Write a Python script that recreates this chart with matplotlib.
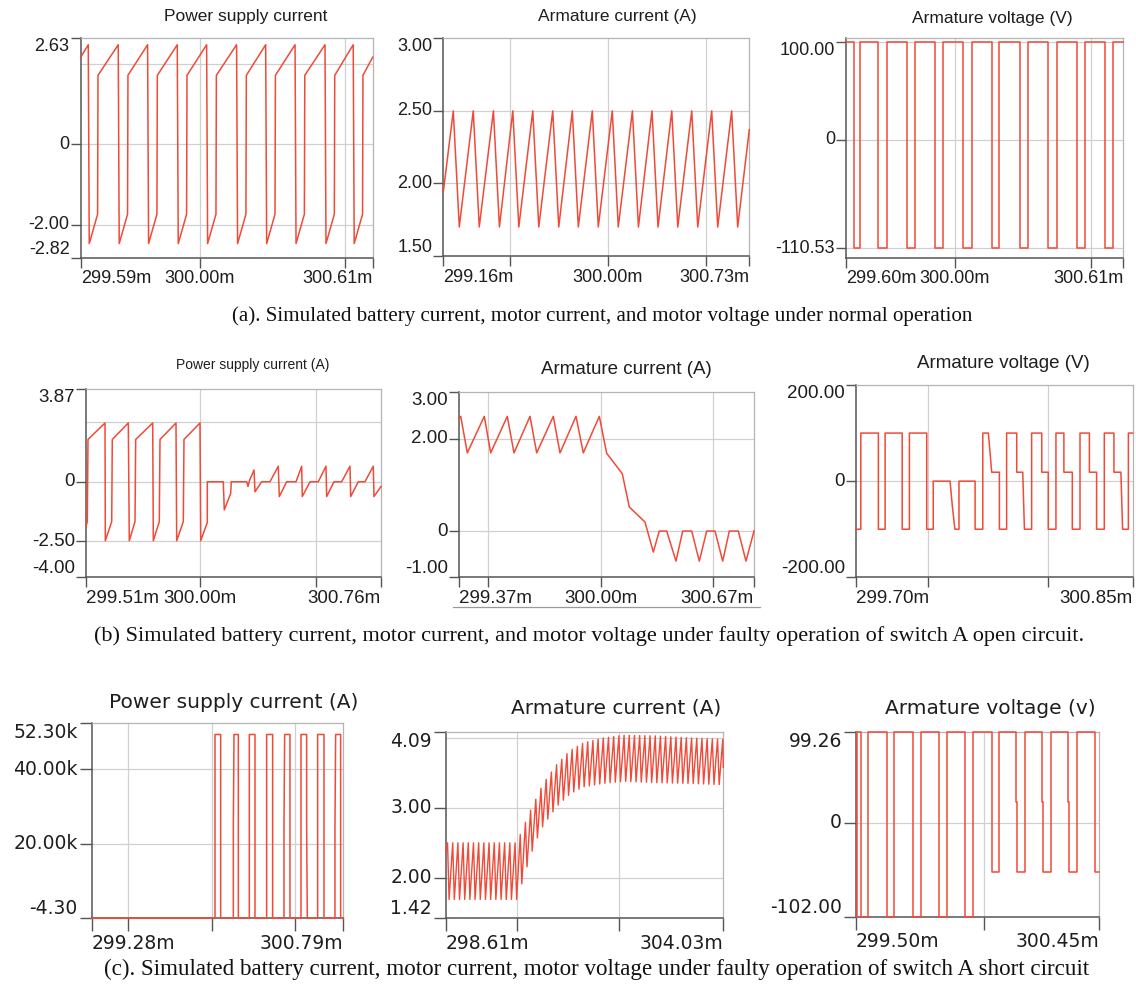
import numpy as np
import matplotlib
matplotlib.use("Agg")
import matplotlib.pyplot as plt
from matplotlib.lines import Line2D

# ---------------- data (time in ms, values in A / V) ----------------
# (a1) power supply current, normal operation
a1_peak_t = [299.616, 299.719, 299.820, 299.922, 300.023, 300.126, 300.226, 300.327, 300.430, 300.527]
a1_cycle_dt = [0.0, 0.0034, 0.0321, 0.0335]
a1_cycle_i = [2.47, -2.47, -1.74, 1.71]
a1_start = (299.59, 2.16)
a1_end = (300.594, 2.16)

# (a2) armature current, normal operation
a2_peak_t = [299.211, 299.313, 299.416, 299.515, 299.617, 299.719, 299.819, 299.921,
             300.023, 300.126, 300.226, 300.327, 300.429, 300.531, 300.633]
a2_cycle_dt = [0.0, 0.0307]
a2_cycle_i = [2.50, 1.70]
a2_start = (299.16, 1.94)
a2_end = (300.723, 2.37)

# (a3) armature voltage, normal operation (step changes)
a3_t = [299.600, 299.629, 299.651, 299.719, 299.749, 299.823, 299.853, 299.927, 299.957,
        300.031, 300.061, 300.135, 300.163, 300.239, 300.269, 300.343, 300.373, 300.447,
        300.477, 300.551, 300.579, 300.618]
a3_v = [100, -110.53, 100, -110.53, 100, -110.53, 100, -110.53, 100, -110.53, 100,
        -110.53, 100, -110.53, 100, -110.53, 100, -110.53, 100, -110.53, 100, 100]

# (b1) power supply current, switch A open circuit
b1_t = [299.510, 299.5156, 299.5186, 299.5917, 299.5930, 299.6205, 299.6230, 299.6918,
        299.6961, 299.7206, 299.7236, 299.7967, 299.7993, 299.8250, 299.8281, 299.8968,
        299.8998, 299.9282, 299.9312, 300.0000, 300.0030, 300.0313, 300.0313, 300.1001,
        300.1044, 300.1319, 300.1345, 300.2007, 300.2063, 300.2127, 300.2321, 300.2364,
        300.2652, 300.3008, 300.3365, 300.3408, 300.3726, 300.4126, 300.4371, 300.4397,
        300.4728, 300.5084, 300.5415, 300.5445, 300.5759, 300.6090, 300.6447, 300.6477,
        300.6804, 300.7091, 300.7448, 300.7478, 300.7779]
b1_i = [-1.875, -1.67, 1.77, 2.46, -2.47, -1.67, 1.77, 2.46, -2.47, -1.67, 1.77, 2.46,
        -2.47, -1.67, 1.77, 2.46, -2.47, -1.67, 1.77, 2.46, -2.47, -1.71, 0, 0, -1.18,
        -0.49, 0, 0, -0.2, 0.05, 0.49, -0.42, 0, 0, 0.65, -0.62, 0, 0, 0.65, -0.62, 0, 0,
        0.65, -0.62, 0, 0, 0.65, -0.62, 0, 0, 0.65, -0.62, -0.2]

# (b2) armature current, switch A open circuit
b2_t = [299.370, 299.3776, 299.4069, 299.4825, 299.5109, 299.5847, 299.6145, 299.6857,
        299.7155, 299.7893, 299.8190, 299.8902, 299.9226, 299.9938, 300.0267, 300.0960,
        300.1272, 300.1970, 300.2339, 300.2605, 300.2934, 300.3348, 300.3646, 300.4046,
        300.4384, 300.4713, 300.5082, 300.5424, 300.5718, 300.6118, 300.6460, 300.6816]
b2_i = [2.43, 2.48, 1.69, 2.48, 1.69, 2.48, 1.69, 2.48, 1.69, 2.48, 1.69, 2.48, 1.69,
        2.48, 1.68, 1.24, 0.52, 0.195, -0.455, 0, 0, -0.65, 0, 0, -0.65, 0, 0, -0.65,
        0, 0, -0.65, 0]

# (b3) armature voltage, switch A open circuit
b3_t = [299.700, 299.720, 299.720, 299.793, 299.793, 299.821, 299.821, 299.892, 299.892,
        299.922, 299.922, 299.994, 299.994, 300.021, 300.021, 300.091, 300.100, 300.111,
        300.128, 300.128, 300.195, 300.195, 300.227, 300.227, 300.250, 300.257, 300.264,
        300.296, 300.296, 300.326, 300.326, 300.368, 300.368, 300.393, 300.397, 300.400,
        300.430, 300.430, 300.472, 300.472, 300.499, 300.499, 300.531, 300.531, 300.564,
        300.564, 300.599, 300.599, 300.631, 300.631, 300.670, 300.670, 300.700, 300.700,
        300.732, 300.732, 300.772, 300.772, 300.801, 300.805, 300.808, 300.832, 300.832,
        300.850]
b3_v = [-100, -100, 100, 100, -100, -100, 100, 100, -100, -100, 100, 100, -100, -100, 0,
        0, -50, -100, -100, 0, 0, -100, -100, 100, 100, 60, 18.6, 18.6, -100, -100, 100,
        100, 18.6, 18.6, -50, -100, -100, 100, 100, 18.6, 18.6, -100, -100, 100, 100, 18.6,
        18.6, -100, -100, 100, 100, 18.6, 18.6, -100, -100, 100, 100, 18.6, 18.6, -50,
        -100, -100, 100, 100]

# (c1) power supply current, switch A short circuit
c1_t = [299.280, 300.020, 300.020, 300.054, 300.054, 300.130, 300.130, 300.134, 300.160,
        300.160, 300.226, 300.226, 300.260, 300.260, 300.330, 300.330, 300.366, 300.366,
        300.434, 300.434, 300.438, 300.470, 300.470, 300.536, 300.536, 300.570, 300.570,
        300.574, 300.636, 300.636, 300.674, 300.674, 300.740, 300.740, 300.744, 300.774,
        300.774, 300.790]
c1_i = [-4.3, -4.3, 49300, 49300, -4.3, -4.3, 24600, 49300, 49300, -4.3, -4.3, 49300,
        49300, -4.3, -4.3, 49300, 49300, -4.3, -4.3, 24600, 49300, 49300, -4.3, -4.3,
        49300, 49300, 24600, -4.3, -4.3, 49300, 49300, -4.3, -4.3, 24600, 49300, 49300,
        -4.3, -4.3]

# (c2) armature current, switch A short circuit: ripple envelope + ripple period
c2_env_t = [298.610, 299.992, 300.121, 300.252, 300.383, 300.512, 300.774, 301.034,
            301.294, 301.685, 302.076, 302.728, 303.379, 304.030]
c2_upper = [2.50, 2.50, 2.72, 2.95, 3.15, 3.35, 3.62, 3.82, 3.93, 4.00, 4.04, 4.03, 4.00, 3.98]
c2_lower = [1.69, 1.69, 1.98, 2.30, 2.55, 2.75, 3.02, 3.20, 3.30, 3.35, 3.38, 3.36, 3.35, 3.33]
c2_period = 0.1015
c2_fall = 0.0307
c2_first_peak = 298.640

# (c3) armature voltage, switch A short circuit
c3_t = [299.500, 299.505, 299.505, 299.520, 299.520, 299.548, 299.548, 299.620, 299.620,
        299.650, 299.650, 299.721, 299.721, 299.753, 299.753, 299.825, 299.825, 299.854,
        299.854, 299.926, 299.926, 299.956, 299.956, 300.030, 300.030, 300.058, 300.058,
        300.124, 300.124, 300.129, 300.129, 300.160, 300.160, 300.225, 300.225, 300.230,
        300.230, 300.260, 300.260, 300.328, 300.328, 300.333, 300.333, 300.362, 300.362,
        300.433, 300.433, 300.450]
c3_v = [-102, -102, 99.26, 99.26, -102, -102, 99.26, 99.26, -102, -102, 99.26, 99.26,
        -102, -102, 99.26, 99.26, -102, -102, 99.26, 99.26, -102, -102, 99.26, 99.26,
        -52.9, -52.9, 99.26, 99.26, 23.2, 23.2, -52.9, -52.9, 99.26, 99.26, 23.2, 23.2,
        -52.9, -52.9, 99.26, 99.26, 23.2, 23.2, -52.9, -52.9, 99.26, 99.26, -52.9, -52.9]

titles = ["Power supply current", "Armature current (A)", "Armature voltage (V)",
          "Power supply current (A)", "Armature current (A)", "Armature voltage (V)",
          "Power supply current (A)", "Armature current (A)", "Armature voltage (v)"]
captions = [
    "(a). Simulated battery current, motor current, and motor voltage under normal operation",
    "(b) Simulated battery current, motor current, and motor voltage under faulty operation of switch A open circuit.",
    "(c). Simulated battery current, motor current, motor voltage under faulty operation of switch A short circuit",
]

# axis settings (limits, ticks, labels)
xlims = [(299.59, 300.594), (299.16, 300.723), (299.60, 300.618),
         (299.51, 300.778), (299.37, 300.6816), (299.70, 300.85),
         (299.28, 300.79), (298.61, 304.03), (299.50, 300.45)]
xticks = [[299.59, 300.0, 300.5, 300.594], [299.16, 299.5, 300.0, 300.5, 300.723],
          [299.60, 300.0, 300.5, 300.618], [299.51, 300.0, 300.5, 300.778],
          [299.37, 299.5, 300.0, 300.5, 300.6816], [299.70, 300.0, 300.5, 300.85],
          [299.28, 299.5, 300.0, 300.5, 300.79], [298.61, 300.0, 302.0, 304.03],
          [299.50, 300.0, 300.45]]
xticklabels = [["299.59m", "300.00m", "", "300.61m"], ["299.16m", "", "300.00m", "", "300.73m"],
               ["299.60m", "300.00m", "", "300.61m"], ["299.51m", "300.00m", "", "300.76m"],
               ["299.37m", "", "300.00m", "", "300.67m"], ["299.70m", "", "", "300.85m"],
               ["299.28m", "", "", "", "300.79m"], ["298.61m", "", "", "304.03m"],
               ["299.50m", "", "300.45m"]]
xgrids = [[300.0, 300.5], [299.5, 300.0, 300.5], [300.0, 300.5], [300.0, 300.5],
          [299.5, 300.0, 300.5], [300.0, 300.5], [299.5, 300.0, 300.5], [300.0, 302.0],
          [300.0]]
ylims = [(-2.82, 2.63), (1.5, 3.0), (-120.1, 103.5), (-4.0, 3.87), (-1.0, 3.0),
         (-200, 200), (-4.3, 52300), (1.42, 4.09), (-102, 99.26)]
yticks = [[2.63, 0, -2.0, -2.82], [3.0, 2.5, 2.0, 1.5], [100, 0, -110.53],
          [3.87, 0, -2.5, -4.0], [3.0, 2.0, 0, -1.0], [200, 0, -200],
          [52300, 40000, 20000, -4.3], [4.09, 3.0, 2.0, 1.42], [99.26, 0, -102]]
yticklabels = [["2.63", "0", "-2.00", "-2.82"], ["3.00", "2.50", "2.00", "1.50"],
               ["100.00", "0", "-110.53"], ["3.87", "0", "-2.50", "-4.00"],
               ["3.00", "2.00", "0", "-1.00"], ["200.00", "0", "-200.00"],
               ["52.30k", "40.00k", "20.00k", "-4.30"], ["4.09", "3.00", "2.00", "1.42"],
               ["99.26", "0", "-102.00"]]
yvas = [["top", "center", "center", "bottom"], ["top", "center", "center", "bottom"],
        ["top", "center", "center"], ["top", "center", "center", "bottom"],
        ["top", "center", "center", "bottom"], ["top", "center", "bottom"],
        ["top", "center", "center", "bottom"], ["top", "center", "center", "bottom"],
        ["top", "center", "bottom"]]
ygrids = [[2.0, 0, -2.0], [2.5, 2.0], [100, 0, -110.53], [2.5, 0, -2.5], [2.0, 0],
          [0], [40000, 20000], [4.0, 3.0, 2.0], [0]]

# ---------------- layout ----------------
W, H = 1136, 989
fig = plt.figure(figsize=(W / 100, H / 100), dpi=100)
fig.patch.set_facecolor("white")

boxes = [(80.7, 372.7, 38.3, 257.7), (443.3, 749.3, 38.3, 256.0), (846.0, 1123.3, 38.3, 257.7),
         (86.0, 381.0, 389.3, 577.3), (459.0, 754.0, 392.3, 577.3), (856.0, 1132.7, 385.0, 577.3),
         (91.7, 343.3, 723.3, 918.3), (446.0, 723.3, 731.7, 918.3), (856.0, 1099.3, 731.7, 916.7)]
title_pos = [(246, 17), (617, 17), (992, 19), (253, 365), (626, 370), (1003, 363),
             (234, 702), (616, 708), (990, 709)]
title_fs = [12.5, 12.5, 12.5, 10.0, 13.5, 13.5, 14.5, 14.5, 14.5]
tick_fs = [13, 13, 13, 13.5, 13.5, 13.5, 13.5, 13.5, 13.5]
caption_y = [316, 636, 969]
caption_x = [602, 589, 597]
caption_fs = [15.1, 16.0, 16.6]

RED = "#f04a38"
GRID = "#d0d0d0"
DARK = "#555555"

axes = []
for k, (L, R, T, B) in enumerate(boxes):
    ax = fig.add_axes([L / W, 1 - B / H, (R - L) / W, (B - T) / H])
    fam = "DejaVu Sans" if k >= 6 else "Liberation Sans"
    ax.set_xlim(*xlims[k])
    ax.set_ylim(*ylims[k])
    for g in xgrids[k]:
        ax.axvline(g, color=GRID, lw=0.9, zorder=0)
    for g in ygrids[k]:
        ax.axhline(g, color=GRID, lw=0.9, zorder=0)
    ax.set_xticks(xticks[k], labels=xticklabels[k], fontsize=tick_fs[k], fontfamily=fam)
    ax.set_yticks(yticks[k], labels=yticklabels[k], fontsize=tick_fs[k], fontfamily=fam)
    xl = ax.get_xticklabels()
    xl[0].set_ha("left")
    xl[-1].set_ha("right")
    for lab, va in zip(ax.get_yticklabels(), yvas[k]):
        lab.set_va(va)
    tl = 9 if k >= 6 else 7
    ax.tick_params(axis="both", direction="out", length=tl, width=1.0, color=DARK,
                   labelcolor="#1e1e1e")
    ax.tick_params(axis="y", pad=1)
    ax.tick_params(axis="x", pad=2)
    for s in ("top", "right"):
        ax.spines[s].set_color("#b4b4b4")
        ax.spines[s].set_linewidth(0.9)
    for s in ("left", "bottom"):
        ax.spines[s].set_color(DARK)
        ax.spines[s].set_linewidth(1.1)
    tx, ty = title_pos[k]
    fig.text(tx / W, 1 - ty / H, titles[k], ha="center", va="center",
             fontsize=title_fs[k], fontfamily=fam, color="#1e1e1e")
    axes.append(ax)

# ---------------- curves ----------------
def cycles(start, peaks, dts, vals, end):
    t, y = [start[0]], [start[1]]
    for p in peaks:
        for d, v in zip(dts, vals):
            t.append(p + d)
            y.append(v)
    t.append(end[0])
    y.append(end[1])
    return t, y

kw = dict(color=RED, lw=1.1, clip_on=False, zorder=3)

t, y = cycles(a1_start, a1_peak_t, a1_cycle_dt, a1_cycle_i, a1_end)
axes[0].plot(t, y, **kw)
t, y = cycles(a2_start, a2_peak_t, a2_cycle_dt, a2_cycle_i, a2_end)
axes[1].plot(t, y, **kw)
axes[2].plot(a3_t, a3_v, drawstyle="steps-post", **kw)
axes[3].plot(b1_t, b1_i, **kw)
axes[4].plot(b2_t, b2_i, **kw)
axes[5].plot(b3_t, b3_v, **kw)
axes[6].plot(c1_t, c1_i, **kw)

# c2 ripple between the read envelopes
pk = np.arange(c2_first_peak, c2_env_t[-1], c2_period)
ct = [c2_env_t[0]]
cy = [0.5 * (c2_upper[0] + c2_lower[0]) + 0.3]
for p in pk:
    ct.append(p)
    cy.append(np.interp(p, c2_env_t, c2_upper))
    tr = p + c2_fall
    if tr < c2_env_t[-1]:
        ct.append(tr)
        cy.append(np.interp(tr, c2_env_t, c2_lower))
ct.append(c2_env_t[-1])
cy.append(np.interp(c2_env_t[-1], c2_env_t, c2_lower) + 0.25)
axes[7].plot(ct, cy, color=RED, lw=1.0, clip_on=False, zorder=3)

axes[8].plot(c3_t, c3_v, **kw)

# thin separator under panel (b2)
fig.add_artist(Line2D([453 / W, 760 / W], [1 - 606.7 / H, 1 - 606.7 / H],
                      color="#9a9a9a", lw=0.9))

# ---------------- captions ----------------
for cap, cx, cyp, cfs in zip(captions, caption_x, caption_y, caption_fs):
    fig.text(cx / W, 1 - cyp / H, cap, ha="center", va="center",
             fontsize=cfs, fontfamily="Liberation Serif", color="#111111")

fig.savefig("out.png", dpi=100, facecolor="white")
